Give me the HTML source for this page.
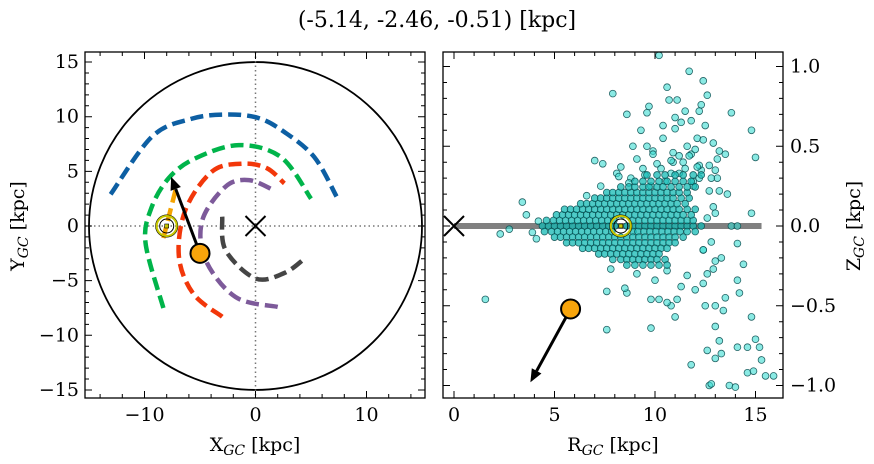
<!DOCTYPE html>
<html><head><meta charset="utf-8">
<style>
html,body{margin:0;padding:0;background:#fff;}
svg{display:block;font-family:"DejaVu Serif","Liberation Serif",serif;}
</style></head>
<body>
<svg id="fig" width="874" height="464" viewBox="0 0 874 464">
<text x="437" y="27" font-size="22" text-anchor="middle">(-5.14, -2.46, -0.51) [kpc]</text>
<g id="left"></g>
<g id="right"></g>
<text x="255" y="451" font-size="19" text-anchor="middle">X<tspan font-size="14" font-style="italic" dy="4">GC</tspan><tspan dy="-4"> [kpc]</tspan></text>
<text x="613" y="451" font-size="19" text-anchor="middle">R<tspan font-size="14" font-style="italic" dy="4">GC</tspan><tspan dy="-4"> [kpc]</tspan></text>
<text transform="translate(24,226) rotate(-90)" font-size="19" text-anchor="middle">Y<tspan font-size="14" font-style="italic" dy="4">GC</tspan><tspan dy="-4"> [kpc]</tspan></text>
<text transform="translate(860,226) rotate(-90)" font-size="19" text-anchor="middle">Z<tspan font-size="14" font-style="italic" dy="4">GC</tspan><tspan dy="-4"> [kpc]</tspan></text>
</svg>
<script>
// ---- data: spiral arms (X,Y kpc) ----
const armBlueX=[-13.05,-9.3,-5.8,-2.7,0.2,2.6,5.3,7.3];
const armBlueY=[2.9,8.2,9.8,10.2,9.9,8.6,6.3,2.7];
const armGreenX=[-8.3,-9.9,-9.4,-7.8,-5.4,-1.5,2.3,5.0];
const armGreenY=[-7.5,-1.6,1.6,4.4,6.2,7.4,6.3,2.5];
const armRedX=[-3.0,-5.6,-6.9,-6.3,-3.9,-1.2,1.0,2.6];
const armRedY=[-8.3,-6.2,-2.8,1.5,5.0,5.7,5.3,3.9];
const armPurpleX=[2.0,-1.8,-4.5,-4.8,-2.7,-0.6,1.6];
const armPurpleY=[-7.4,-6.5,-3.1,0.5,3.6,4.2,3.3];
const armGrayX=[-3.0,-2.7,0,2.6,4.4];
const armGrayY=[0.85,-2.2,-4.8,-4.3,-3.0];
const armOrangeX=[-7.2,-8.3];
const armOrangeY=[3.3,-1.1];
// star + sun
const starXY=[-5.0,-2.5];
const starVelTipXY=[-7.6,4.5];
const sunXY=[-8.0,0];
const starRZ=[5.8,-0.52];
const starVelTipRZ=[3.8,-0.98];
const sunRZ=[8.3,0];
// scatter (R kpc, Z kpc) — halo/outliers
const scatR=[10.2,11.7,12.4,10.6,7.9,12.6,10.7,11.1,12.3,9.7,9.6,8.6,13.8,11.5,12.2,11.8,12.5,11.3,11.0,10.4,11.0,9.3,14.8,9.6,8.9,9.9,10.4,7.0,7.4,15.0,3.4,14.8,12.1,12.9,13.2,13.5,11.8,12.7,11.4,10.9,13.0,12.2,9.1,8.3,8.1,8.8,9.4,10.1,10.8,11.6,12.4,13.1,11.9,10.5,9.8,
1.56,2.3,2.75,7.6,9.8,11.8,12.6,13.0,13.3,12.7,12.8,13.7,14.0,14.6,14.9,15.5,15.9,15.3,14.6,15.2,15.0,14.1,13.2,13.0,14.8,13.4,13.0,12.5,11.0,10.8,11.1,10.6,10.2,9.8,8.6,8.5,7.6,14.2,14.1,14.4,14.1,13.8,14.1,12.0,12.4,11.6,12.9,13.5,9.1,10.0,11.3,
3.9,4.2,3.6,4.1,12.6,12.9,13.3,12.3,12.8,13.6,11.9,12.4,13.1,12.2,11.5,10.9,12.8,13.2,12.0,11.2,10.6,12.6,13.0,
10.3,11.2,12.1,9.5,10.8,11.7,8.7,9.9,12.7,7.3,8.2,7.8,6.6,12.4,13.0];
const scatZ=[1.07,0.97,0.91,0.87,0.83,0.82,0.79,0.79,0.76,0.75,0.71,0.70,0.71,0.72,0.72,0.66,0.63,0.65,0.68,0.63,0.61,0.60,0.60,0.50,0.50,0.47,0.55,0.41,0.39,0.43,0.15,0.08,0.55,0.52,0.47,0.45,0.45,0.38,0.40,0.46,0.35,0.30,0.42,0.37,0.33,0.30,0.36,0.39,0.33,0.50,0.54,0.30,0.25,0.28,0.25,
-0.46,-0.05,-0.02,-0.65,-0.64,-0.87,-0.78,-0.83,-0.80,-1.00,-0.99,-1.00,-1.01,-0.92,-0.91,-0.94,-0.94,-0.84,-0.76,-0.76,-0.71,-0.76,-0.72,-0.63,-0.57,-0.53,-0.50,-0.50,-0.57,-0.50,-0.46,-0.48,-0.46,-0.46,-0.42,-0.39,-0.41,-0.42,-0.34,-0.24,-0.11,0.00,0.00,-0.40,-0.36,-0.31,-0.27,-0.45,-0.30,-0.34,-0.38,
-0.04,0.03,0.07,-0.08,0.05,0.12,-0.20,0.35,-0.10,0.20,0.28,-0.15,0.42,0.38,0.36,0.40,0.30,0.22,0.48,0.44,-0.28,-0.30,-0.22,
0.36,0.33,0.37,0.32,0.41,0.44,0.27,0.45,0.22,0.25,0.31,-0.27,0.19,-0.15,0.08];
// dense disk core: row heights and the R positions read along each row
const coreZ=[0.00,0.035,-0.035,0.07,-0.07,0.105,-0.105,0.14,-0.14,0.175,-0.175,0.21,-0.21,0.245,-0.245,0.28,0.32];
const coreR=[
[4.4,4.7,5.0,5.3,5.6,5.9,6.2,6.5,6.8,7.1,7.4,7.7,8.0,8.6,8.9,9.2,9.5,9.8,10.1,10.4,10.7,11.0,11.3,11.6,11.9,12.3],
[4.6,4.95,5.25,5.55,5.85,6.15,6.45,6.75,7.05,7.35,7.65,7.95,8.9,9.2,9.5,9.8,10.1,10.4,10.7,11.0,11.3,11.6,11.9],
[4.5,4.85,5.15,5.45,5.75,6.05,6.35,6.65,6.95,7.25,7.55,7.85,8.9,9.15,9.45,9.75,10.05,10.35,10.65,10.95,11.25,11.6,12.0],
[5.1,5.4,5.7,6.0,6.3,6.6,6.9,7.2,7.5,7.8,8.1,8.4,8.7,9.0,9.3,9.6,9.9,10.2,10.5,10.8,11.1,11.4,11.8],
[5.0,5.3,5.6,5.9,6.2,6.5,6.8,7.1,7.4,7.7,8.0,8.3,8.6,8.9,9.2,9.5,9.8,10.1,10.4,10.7,11.0,11.4],
[5.5,5.8,6.1,6.4,6.7,7.0,7.3,7.6,7.9,8.2,8.5,8.8,9.1,9.4,9.7,10.0,10.3,10.6,10.9,11.2,11.6,12.0],
[5.6,5.9,6.2,6.5,6.8,7.1,7.4,7.7,8.0,8.3,8.6,8.9,9.2,9.5,9.8,10.1,10.4,10.7,11.0],
[6.3,6.6,6.9,7.2,7.5,7.8,8.1,8.4,8.7,9.0,9.3,9.6,9.9,10.2,10.5,10.8,11.1,11.5],
[6.4,6.7,7.0,7.3,7.6,7.9,8.2,8.5,8.8,9.1,9.4,9.7,10.0,10.3,10.6],
[7.0,7.3,7.6,7.9,8.2,8.5,8.8,9.1,9.4,9.7,10.0,10.3,10.6,10.9,11.3,11.7],
[7.2,7.5,7.8,8.1,8.4,8.7,9.0,9.3,9.6,9.9,10.2],
[7.6,7.9,8.2,8.5,8.8,9.1,9.4,9.7,10.0,10.3,10.6,10.9,11.2,11.6],
[7.9,8.3,8.6,8.9,9.2,9.5,9.8,10.1,10.5],
[8.3,8.7,9.0,9.4,9.7,10.1,10.4,10.8,11.2,11.6,12.0],
[8.6,9.0,9.4,9.8,10.2,10.6],
[9.0,9.4,9.8,10.2,10.6,11.0,11.4,11.8],
[9.6,10.1,10.5,11.0,11.4,11.9,12.3]];

const NS='http://www.w3.org/2000/svg';
function mk(parent,tag,attrs){const e=document.createElementNS(NS,tag);for(const k in attrs)e.setAttribute(k,attrs[k]);parent.appendChild(e);return e;}

const L={x0:85,x1:425,y0:52,y1:398};
const lx=v=>255.5+v*11.1;
const ly=v=>226-v*10.93;
const R={x0:443,x1:783,y0:52,y1:398};
const rx=v=>454+v*20.1;
const ry=v=>226-v*159.5;

const gL=document.getElementById('left');
const gR=document.getElementById('right');

const circ=mk(gL,'ellipse',{cx:lx(0),cy:ly(0),rx:15*11.1,ry:15*10.93,fill:'none',stroke:'#000','stroke-width':1.8});


const dv=mk(gL,'line',{x1:lx(0),x2:lx(0),y1:L.y0,y2:L.y1,stroke:'#777','stroke-width':1.5,'stroke-dasharray':'1.5 3'});


const dh=mk(gL,'line',{x1:L.x0,x2:L.x1,y1:ly(0),y2:ly(0),stroke:'#777','stroke-width':1.5,'stroke-dasharray':'1.5 3'});



function smooth(xs,ys){
  const p=xs.map((x,i)=>[lx(x),ly(ys[i])]);
  if(p.length<3) return 'M'+p.map(q=>q.join(',')).join('L');
  let d='M'+p[0][0]+','+p[0][1];
  for(let i=0;i<p.length-1;i++){
    const p0=p[i-1]||p[i],p1=p[i],p2=p[i+1],p3=p[i+2]||p2;
    const c1=[p1[0]+(p2[0]-p0[0])/6,p1[1]+(p2[1]-p0[1])/6];
    const c2=[p2[0]-(p3[0]-p1[0])/6,p2[1]-(p3[1]-p1[1])/6];
    d+=`C${c1[0]},${c1[1]} ${c2[0]},${c2[1]} ${p2[0]},${p2[1]}`;
  }
  return d;
}
const arms=[[armBlueX,armBlueY,'#0d5fa3','arm-outer-blue'],[armGreenX,armGreenY,'#00b44a','arm-perseus-green'],[armOrangeX,armOrangeY,'#f5a300','arm-local-orange'],[armRedX,armRedY,'#f2370a','arm-sagittarius-red'],[armPurpleX,armPurpleY,'#7d5a9a','arm-scutum-purple'],[armGrayX,armGrayY,'#454545','arm-inner-gray']];
arms.forEach(a=>{
  const p=mk(gL,'path',{d:smooth(a[0],a[1]),fill:'none',stroke:a[2],'stroke-width':4.5,'stroke-dasharray':'13 6'});
  
  
});
function cross(g,cx,cy,name){
  const c=mk(g,'path',{d:`M${cx-10},${cy-10}L${cx+10},${cy+10}M${cx-10},${cy+10}L${cx+10},${cy-10}`,stroke:'#000','stroke-width':2,fill:'none'});
  
  
}
cross(gL,lx(0),ly(0),'galactic-center-marker');
function sun(g,cx,cy,name){
  const s=mk(g,'g',{});
  
  
  mk(s,'circle',{cx:cx,cy:cy,r:11,fill:'none',stroke:'#000','stroke-width':1});
  mk(s,'circle',{cx:cx,cy:cy,r:10,fill:'none',stroke:'#c8c800','stroke-width':2});
  mk(s,'circle',{cx:cx,cy:cy,r:7,fill:'none',stroke:'#000','stroke-width':1});
  mk(s,'rect',{x:cx-2,y:cy-2,width:4,height:4,fill:'#c8c800',stroke:'#000','stroke-width':0.6});
}
function arrowStar(g,x0,y0,x1,y1,name){
  const a=mk(g,'g',{});
  
  
  const ang=Math.atan2(y1-y0,x1-x0),hl=13,hw=5.5;
  const bx=x1-hl*Math.cos(ang),by=y1-hl*Math.sin(ang);
  mk(a,'line',{x1:x0,y1:y0,x2:bx,y2:by,stroke:'#000','stroke-width':3});
  mk(a,'polygon',{points:`${x1},${y1} ${bx-hw*Math.sin(ang)},${by+hw*Math.cos(ang)} ${bx+hw*Math.sin(ang)},${by-hw*Math.cos(ang)}`,fill:'#000'});
  mk(a,'circle',{cx:x0,cy:y0,r:9.5,fill:'#f7a40b',stroke:'#000','stroke-width':2});
}
sun(gL,lx(sunXY[0]),ly(sunXY[1]),'sun-marker-left');
arrowStar(gL,lx(starXY[0]),ly(starXY[1]),lx(starVelTipXY[0]),ly(starVelTipXY[1]),'star-velocity-left');

// ---- Right panel ----
const bar=mk(gR,'line',{x1:rx(0),x2:rx(15.3),y1:ry(0),y2:ry(0),stroke:'#808080','stroke-width':6});


cross(gR,rx(0),ry(0),'galactic-center-marker-right');
const sg=mk(gR,'g',{});


function dot(r,z,core){
  const c=mk(sg,'circle',{cx:rx(r),cy:ry(z),r:3.4,fill:core?'rgba(20,185,180,0.75)':'rgba(60,220,210,0.6)',stroke:'rgba(8,75,78,0.85)','stroke-width':0.8});
  
  
}
scatR.forEach((r,i)=>{ if(scatZ[i]!==undefined) dot(r,scatZ[i],false); });
coreZ.forEach((z,j)=>{ coreR[j].forEach(r=>dot(r,z,true)); });
sun(gR,rx(sunRZ[0]),ry(sunRZ[1]),'sun-marker-right');
arrowStar(gR,rx(starRZ[0]),ry(starRZ[1]),rx(starVelTipRZ[0]),ry(starVelTipRZ[1]),'star-velocity-right');

function axes(g,B,fx,fy,xMaj,xMin,yMaj,yMin,xLab,yLab,ySide,pfx){
  const f=mk(g,'rect',{x:B.x0,y:B.y0,width:B.x1-B.x0,height:B.y1-B.y0,fill:'none',stroke:'#000','stroke-width':1.3});
  
  
  let d='';
  xMaj.forEach(v=>{const x=fx(v);d+=`M${x},${B.y1}v-7M${x},${B.y0}v7`;});
  xMin.forEach(v=>{const x=fx(v);d+=`M${x},${B.y1}v-4M${x},${B.y0}v4`;});
  yMaj.forEach(v=>{const y=fy(v);d+=`M${B.x0},${y}h7M${B.x1},${y}h-7`;});
  yMin.forEach(v=>{const y=fy(v);d+=`M${B.x0},${y}h4M${B.x1},${y}h-4`;});
  const t=mk(g,'path',{d:d,stroke:'#000','stroke-width':1,fill:'none'});
  
  
  xMaj.forEach((v,i)=>{
    const tx=mk(g,'text',{x:fx(v),y:B.y1+23,'font-size':19,'text-anchor':'middle'});
    tx.textContent=xLab[i];
    
    
  });
  yMaj.forEach((v,i)=>{
    const ty=mk(g,'text',{x:ySide==='left'?B.x0-6:B.x1+7,y:fy(v)+6,'font-size':19,'text-anchor':ySide==='left'?'end':'start'});
    ty.textContent=yLab[i];
    
    
  });
}
const lxMaj=[-10,0,10], lxLab=['\u221210','0','10'];
const lxMin=[-14,-12,-8,-6,-4,-2,2,4,6,8,12,14];
const lyMaj=[-15,-10,-5,0,5,10,15], lyLab=['\u221215','\u221210','\u22125','0','5','10','15'];
const lyMin=[];for(let v=-15;v<=15;v++) if(v%5) lyMin.push(v);
axes(gL,L,lx,ly,lxMaj,lxMin,lyMaj,lyMin,lxLab,lyLab,'left','left');
const rxMaj=[0,5,10,15], rxLab=['0','5','10','15'];
const rxMin=[];for(let v=0;v<=15;v++) if(v%5) rxMin.push(v);
const ryMaj=[-1,-0.5,0,0.5,1], ryLab=['\u22121.0','\u22120.5','0.0','0.5','1.0'];
const ryMin=[];for(let k=-10;k<=10;k++) if(k%5) ryMin.push(k/10);
axes(gR,R,rx,ry,rxMaj,rxMin,ryMaj,ryMin,rxLab,ryLab,'right','right');
</script>
</body></html>
